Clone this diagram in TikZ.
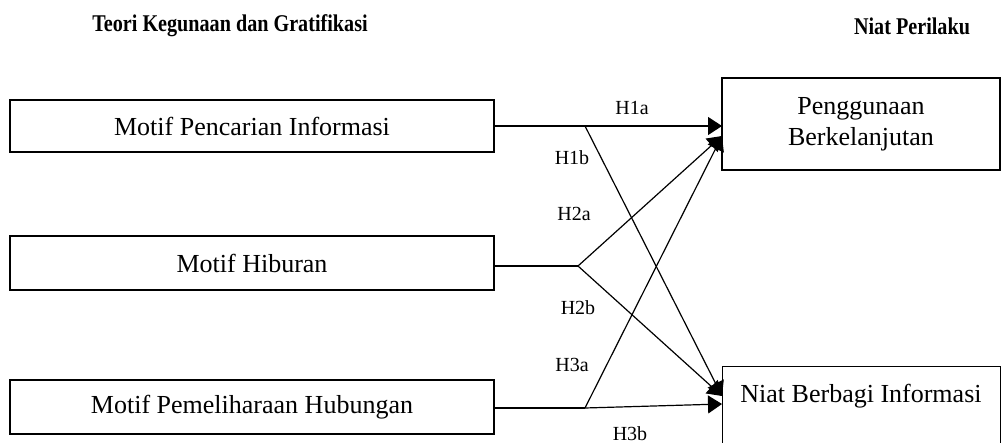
\documentclass[tikz,border=0pt]{standalone}
\usepackage{fontspec}
\setmainfont{Liberation Serif}
\usetikzlibrary{arrows.meta}
\begin{document}
\begin{tikzpicture}[x=0.5pt,y=-0.5pt,
  box/.style={draw, line width=0.6pt, inner sep=0pt, font=\fontsize{13}{15.5}\selectfont},
  lbl/.style={font=\fontsize{10}{12}\selectfont, inner sep=0pt},
  ttl/.style={font=\fontsize{12}{14}\selectfont\bfseries, inner sep=0pt},
  conn/.style={line width=0.6pt},
  arr/.style={line width=0.6pt, -{Triangle[length=7pt,width=9pt]}}]
\useasboundingbox (0,0) rectangle (1001,443);
% titles
\node[ttl] (t1) at (230,26) {\scalebox{0.84}[1]{Teori Kegunaan dan Gratifikasi}};
\node[ttl] (t2) at (912,26) {\scalebox{0.84}[1]{Niat Perilaku}};
% left boxes
\node[box, minimum width=242pt, minimum height=26pt] (m1) at (252,126) {Motif Pencarian Informasi};
\node[box, minimum width=242pt, minimum height=27pt] (m2) at (252,263) {Motif Hiburan};
\node[box, minimum width=242pt, minimum height=27pt] (m3) at (252,407) {Motif Pemeliharaan Hubungan};
% right boxes
\node[box, minimum width=139pt, minimum height=46pt, align=center] (pb) at (861,124) {Penggunaan\\Berkelanjutan};
\node[box, minimum width=139pt, minimum height=60pt, anchor=north west] (nb) at (722,366) {};
\node[font=\fontsize{13}{15.5}\selectfont, inner sep=0pt] (nbt) at (861,396) {Niat Berbagi Informasi};
% junctions and targets
\coordinate (j1) at (585,126);
\coordinate (j2) at (578,266);
\coordinate (j3) at (585,408);
\coordinate (ta) at (722,126);
\coordinate (tb) at (722,136);
\coordinate (ba) at (722,396);
\coordinate (bb) at (722,404);
% connectors
\draw[arr] (m1.east |- ta) -- (ta);
\draw[arr] (j1) -- (ba);
\draw[conn] (m2.east |- j2) -- (j2);
\draw[arr] (j2) -- (tb);
\draw[arr] (j2) -- (ba);
\draw[conn] (m3.east |- j3) -- (j3);
\draw[arr] (j3) -- (bb);
\draw[arr] (j3) -- (tb);
% labels
\node[lbl] (h1a) at (632,108) {H1a};
\node[lbl] (h1b) at (572,158) {H1b};
\node[lbl] (h2a) at (574,214) {H2a};
\node[lbl] (h2b) at (578,308) {H2b};
\node[lbl] (h3a) at (572,365) {H3a};
\node[lbl] (h3b) at (630,434) {H3b};
\end{tikzpicture}
\end{document}
